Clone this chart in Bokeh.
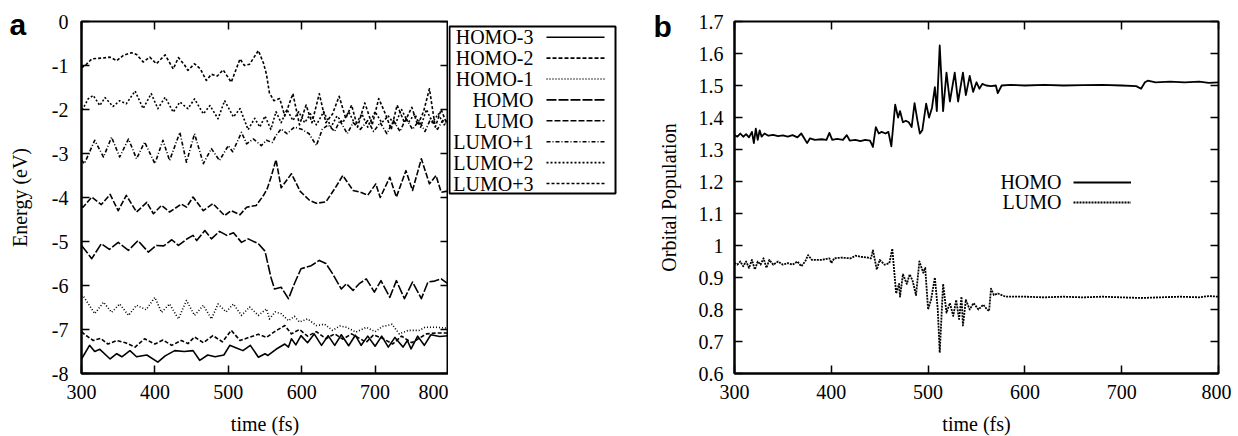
import math
from bokeh.plotting import figure
from bokeh.models import (LinearAxis, FixedTicker, Label, BoxAnnotation, Legend,
                          LegendItem, Range1d, CustomJSTickFormatter)
from bokeh.core.properties import value
from bokeh.layouts import row
from bokeh.embed import file_html
from bokeh.resources import INLINE

# ---------------- data: panel a (energy, eV) ----------------
t_lumo3 = [300, 305, 314, 322, 329, 339, 348, 357, 368, 375, 384, 393, 402, 414, 425, 432, 440, 445, 454, 462,
           470, 477, 485, 493, 504, 516, 522, 529, 541, 548, 552, 556, 562, 570, 577, 588, 597, 606, 614, 624,
           633, 642, 651, 660, 668, 676, 686, 696, 705, 714, 722, 730, 740, 750, 758, 766, 774, 782, 790, 797, 800]
e_lumo3 = [-1.05, -1.00, -0.85, -0.84, -0.83, -0.81, -0.89, -0.77, -0.71, -0.75, -0.92, -0.81, -0.96, -0.76, -1.08,
           -0.82, -0.98, -1.11, -0.96, -1.08, -1.34, -1.20, -1.24, -1.10, -1.38, -0.85, -1.00, -0.97, -0.66, -0.95,
           -1.20, -1.62, -1.80, -1.75, -2.15, -1.64, -2.35, -1.90, -2.30, -1.64, -2.30, -2.10, -1.70, -2.20, -1.90,
           -2.40, -1.85, -2.35, -1.75, -2.10, -2.45, -1.90, -2.30, -1.95, -2.35, -2.05, -1.53, -2.40, -2.00, -2.30, -2.20]

t_lumo2 = [300, 302, 309, 316, 325, 332, 343, 352, 361, 373, 384, 395, 404, 414, 425, 434, 445, 454, 466, 475,
           486, 495, 507, 516, 527, 536, 543, 550, 558, 565, 572, 580, 588, 596, 604, 612, 620, 630, 640, 648,
           656, 664, 673, 682, 690, 700, 709, 718, 727, 736, 745, 754, 762, 770, 778, 786, 794, 800]
e_lumo2 = [-2.00, -1.98, -1.76, -1.68, -1.91, -1.73, -1.93, -1.80, -1.87, -1.58, -1.98, -1.64, -1.98, -1.72, -2.06,
           -1.83, -1.98, -1.76, -2.10, -1.91, -2.21, -1.80, -2.17, -1.98, -2.46, -2.20, -2.40, -2.15, -2.45, -2.05,
           -2.30, -2.00, -2.25, -2.05, -2.30, -2.10, -2.35, -2.05, -2.40, -2.15, -2.30, -2.05, -2.35, -2.10, -2.40,
           -2.05, -2.30, -2.15, -2.35, -2.00, -2.30, -2.10, -2.40, -2.00, -2.30, -2.10, -2.35, -2.25]

t_lumo1 = [300, 304, 318, 330, 341, 352, 364, 375, 386, 400, 411, 420, 434, 443, 454, 466, 477, 488, 500, 506,
           518, 525, 534, 545, 552, 560, 565, 572, 580, 590, 600, 610, 620, 628, 636, 645, 652, 662, 670, 680,
           690, 698, 707, 716, 725, 734, 742, 751, 760, 768, 776, 785, 792, 800]
e_lumo1 = [-3.15, -3.23, -2.70, -3.08, -2.63, -3.08, -2.67, -3.12, -2.74, -3.23, -2.70, -3.16, -2.52, -3.20, -2.55,
           -3.23, -2.89, -3.16, -2.82, -2.96, -2.52, -2.78, -2.67, -2.82, -2.70, -2.75, -2.59, -2.44, -2.55, -2.40,
           -2.45, -2.55, -2.82, -2.45, -2.35, -2.50, -2.25, -2.55, -2.30, -2.45, -2.25, -2.50, -2.30, -2.55, -2.25,
           -2.50, -2.20, -2.45, -2.25, -2.50, -2.20, -2.45, -2.25, -2.35]

t_lumo = [300, 302, 314, 327, 339, 350, 361, 375, 389, 398, 409, 420, 436, 443, 452, 466, 479, 495, 504, 516,
          525, 538, 548, 553, 558, 565, 572, 586, 598, 611, 620, 633, 645, 656, 670, 680, 690, 701, 707, 720,
          729, 742, 751, 763, 774, 783, 790, 800]
e_lumo = [-4.20, -4.22, -3.99, -4.16, -3.93, -4.30, -3.95, -4.33, -4.11, -4.37, -4.18, -4.33, -4.15, -4.22, -3.99,
          -4.30, -4.14, -4.41, -4.30, -4.39, -4.22, -4.18, -3.95, -3.80, -3.55, -3.14, -3.78, -3.46, -3.86, -4.07,
          -4.13, -4.10, -3.80, -3.50, -3.84, -3.88, -3.95, -3.69, -4.00, -3.54, -3.99, -3.39, -3.84, -3.12, -3.69,
          -3.50, -3.88, -3.85]

t_homo = [300, 314, 327, 338, 350, 364, 377, 391, 402, 412, 423, 432, 443, 452, 457, 468, 477, 488, 498, 507,
          518, 527, 541, 550, 558, 563, 572, 582, 590, 599, 613, 624, 633, 642, 654, 661, 670, 679, 688, 699,
          708, 720, 729, 740, 751, 763, 772, 781, 790, 800]
e_homo = [-5.09, -5.39, -5.05, -5.18, -5.02, -5.20, -4.98, -5.24, -5.09, -5.10, -4.96, -5.09, -4.95, -4.86, -4.98,
          -4.75, -4.94, -4.77, -4.86, -4.80, -5.02, -4.94, -5.05, -5.22, -5.81, -6.08, -6.04, -6.30, -5.96, -5.62,
          -5.55, -5.43, -5.50, -5.73, -6.08, -5.96, -6.11, -5.95, -5.85, -6.15, -5.89, -6.27, -5.89, -6.30, -5.92,
          -6.30, -5.92, -5.90, -5.85, -5.97]

t_homo1 = [300, 302, 318, 330, 341, 352, 364, 375, 388, 400, 409, 420, 432, 443, 454, 466, 477, 486, 497, 507,
           518, 529, 541, 552, 556, 564, 572, 582, 590, 597, 608, 620, 631, 642, 652, 661, 674, 688, 700, 710,
           717, 723, 733, 745, 760, 768, 783, 800]
e_homo1 = [-6.25, -6.23, -6.64, -6.38, -6.61, -6.42, -6.68, -6.45, -6.55, -6.27, -6.61, -6.42, -6.76, -6.34, -6.68,
           -6.45, -6.76, -6.42, -6.60, -6.42, -6.68, -6.49, -6.68, -6.53, -6.76, -6.60, -6.64, -6.80, -6.70, -6.83,
           -6.76, -6.91, -6.88, -7.02, -6.92, -6.95, -7.06, -6.95, -7.05, -6.93, -6.91, -6.88, -7.10, -7.02, -7.02,
           -6.95, -6.95, -6.97]

t_homo2 = [300, 305, 316, 326, 336, 348, 360, 373, 386, 400, 411, 423, 436, 445, 454, 466, 479, 492, 504, 516,
           528, 541, 552, 563, 577, 586, 597, 608, 620, 633, 645, 656, 668, 688, 698, 710, 724, 736, 750, 770,
           783, 800]
e_homo2 = [-7.05, -7.12, -7.25, -7.20, -7.33, -7.25, -7.30, -7.40, -7.21, -7.33, -7.24, -7.36, -7.25, -7.32, -7.17,
           -7.30, -7.14, -7.28, -7.02, -7.25, -7.18, -7.11, -7.18, -7.05, -6.91, -7.10, -7.00, -7.15, -7.05, -7.21,
           -7.10, -7.22, -7.10, -7.29, -7.12, -7.20, -7.33, -7.15, -7.30, -7.10, -7.08, -7.08]

t_homo3 = [300, 311, 318, 325, 339, 348, 355, 366, 375, 389, 404, 414, 427, 440, 452, 461, 472, 482, 494, 502,
           511, 520, 530, 541, 550, 554, 565, 577, 582, 586, 592, 599, 608, 617, 627, 636, 645, 654, 664, 673,
           681, 690, 700, 709, 718, 727, 738, 744, 749, 758, 767, 776, 788, 800]
e_homo3 = [-7.67, -7.36, -7.50, -7.45, -7.67, -7.55, -7.62, -7.48, -7.62, -7.58, -7.74, -7.60, -7.48, -7.50, -7.48,
           -7.70, -7.58, -7.62, -7.58, -7.36, -7.42, -7.48, -7.36, -7.63, -7.55, -7.59, -7.45, -7.33, -7.40, -7.21,
           -7.35, -7.14, -7.30, -7.10, -7.36, -7.14, -7.36, -7.12, -7.37, -7.13, -7.36, -7.15, -7.38, -7.15, -7.40,
           -7.18, -7.40, -7.25, -7.44, -7.15, -7.36, -7.12, -7.16, -7.14]

names_a = ["HOMO-3", "HOMO-2", "HOMO-1", "HOMO", "LUMO", "LUMO+1", "LUMO+2", "LUMO+3"]
xticks_a = [300, 400, 500, 600, 700, 800]
yticks_a = [-8, -7, -6, -5, -4, -3, -2, -1, 0]

# ---------------- data: panel b (orbital population) ----------------
t_pop_homo = [300, 303, 306, 309, 312, 315, 318, 320, 322, 324, 326, 328, 331, 335, 340, 345, 350, 355, 360, 365,
              369, 372, 375, 378, 383, 390, 395, 398, 401, 406, 412, 416, 419, 425, 430, 435, 440, 443, 446, 449,
              452, 456, 459, 462, 466, 469, 471, 474, 477, 480, 483, 486, 489, 491.5, 494, 498, 501, 504, 507, 509,
              512, 515.5, 519, 522.5, 527.5, 531, 536, 539, 543, 546.5, 550, 553, 556, 560, 565, 570, 572, 576,
              585, 600, 620, 640, 660, 680, 700, 715, 720, 724, 727, 735, 750, 765, 780, 790, 800]
v_pop_homo = [1.345, 1.340, 1.350, 1.340, 1.348, 1.338, 1.355, 1.320, 1.365, 1.330, 1.360, 1.340, 1.350, 1.343,
              1.346, 1.342, 1.344, 1.340, 1.345, 1.338, 1.350, 1.335, 1.320, 1.335, 1.330, 1.332, 1.330, 1.352,
              1.330, 1.333, 1.330, 1.345, 1.328, 1.330, 1.326, 1.330, 1.328, 1.308, 1.370, 1.350, 1.355, 1.350,
              1.355, 1.310, 1.440, 1.400, 1.420, 1.385, 1.390, 1.385, 1.370, 1.445, 1.390, 1.350, 1.360, 1.443,
              1.400, 1.430, 1.495, 1.420, 1.625, 1.420, 1.540, 1.450, 1.540, 1.450, 1.540, 1.470, 1.530, 1.480,
              1.510, 1.490, 1.505, 1.500, 1.498, 1.500, 1.476, 1.500, 1.502, 1.500, 1.502, 1.500, 1.501, 1.502,
              1.500, 1.498, 1.490, 1.510, 1.515, 1.510, 1.512, 1.510, 1.512, 1.508, 1.510]

t_pop_lumo = [300, 303, 306, 309, 312, 315, 318, 321, 324, 327, 330, 333, 336, 340, 345, 350, 355, 360, 365, 369,
              373, 376, 380, 390, 398, 400, 403, 410, 420, 425, 430, 438, 441, 443, 447, 450, 455, 460, 463, 467,
              470, 471, 474, 478, 481, 484, 487.5, 491, 495, 497, 500, 503, 507, 510, 512, 515.5, 519, 522.5, 526,
              529, 532, 534.5, 536, 539, 543, 547, 552, 557, 561, 563, 565, 568, 572, 580, 600, 620, 640, 660, 680,
              700, 720, 740, 760, 780, 790, 800]
v_pop_lumo = [0.945, 0.940, 0.950, 0.935, 0.950, 0.930, 0.955, 0.925, 0.950, 0.940, 0.960, 0.930, 0.955, 0.940,
              0.950, 0.940, 0.945, 0.940, 0.950, 0.935, 0.950, 0.970, 0.955, 0.955, 0.960, 0.945, 0.960, 0.962,
              0.960, 0.968, 0.965, 0.962, 0.960, 0.985, 0.925, 0.955, 0.940, 0.945, 0.990, 0.850, 0.880, 0.840,
              0.910, 0.880, 0.910, 0.890, 0.845, 0.950, 0.915, 0.930, 0.800, 0.830, 0.900, 0.800, 0.665, 0.880,
              0.790, 0.820, 0.780, 0.830, 0.770, 0.840, 0.750, 0.830, 0.800, 0.820, 0.800, 0.815, 0.800, 0.795,
              0.865, 0.845, 0.850, 0.840, 0.840, 0.838, 0.840, 0.838, 0.840, 0.838, 0.836, 0.838, 0.840, 0.838,
              0.842, 0.840]

names_b = ["HOMO", "LUMO"]
xticks_b = [300, 400, 500, 600, 700, 800]
yticks_b = [0.6, 0.7, 0.8, 0.9, 1.0, 1.1, 1.2, 1.3, 1.4, 1.5, 1.6, 1.7]

# ---------------- styling ----------------
SERIF = "Liberation Serif"
SANS = "Liberation Sans"
FS = "20px"
H = 436          # figure height (frame top at 21, frame bottom at 373)
FH = 352


def no_align(p):
    try:
        p.frame_align = False
    except Exception:
        pass


def base_figure(fw, left, right, xr, yr):
    p = figure(title=None, frame_width=fw, frame_height=FH, min_border_left=left, min_border_right=right,
               min_border_top=21, min_border_bottom=H - FH - 21, x_range=xr, y_range=yr,
               output_backend="svg", toolbar_location=None)
    p.grid.visible = False
    p.outline_line_color = "black"
    p.outline_line_width = 2
    p.background_fill_color = "white"
    p.border_fill_color = "white"
    no_align(p)
    return p


def blank_figure(w):
    p = figure(title=None, frame_width=w, frame_height=H, min_border=0, min_border_left=0,
               min_border_right=0, min_border_top=0, min_border_bottom=0,
               x_range=Range1d(0, w), y_range=Range1d(0, H),
               x_axis_type=None, y_axis_type=None, output_backend="svg", toolbar_location=None)
    p.grid.visible = False
    p.outline_line_color = None
    p.background_fill_color = "white"
    p.border_fill_color = "white"
    no_align(p)
    return p


def style_axis(ax, ticks, standoff, label_standoff, fmt_code):
    ax.ticker = FixedTicker(ticks=ticks)
    ax.formatter = CustomJSTickFormatter(code=fmt_code)
    ax.major_tick_in = 8
    ax.major_tick_out = 0
    ax.major_tick_line_width = 1.5
    ax.major_tick_line_color = "black"
    ax.minor_tick_line_color = None
    ax.axis_line_width = 2
    ax.axis_line_color = "black"
    ax.major_label_text_font = SERIF
    ax.major_label_text_font_size = FS
    ax.major_label_text_color = "black"
    ax.major_label_standoff = standoff
    ax.axis_label_text_font = SERIF
    ax.axis_label_text_font_size = FS
    ax.axis_label_text_font_style = "normal"
    ax.axis_label_text_color = "black"
    ax.axis_label_standoff = label_standoff


def mirror(p, ticks, side):
    ax = LinearAxis(ticker=FixedTicker(ticks=ticks),
                    formatter=CustomJSTickFormatter(code="return ''"))
    ax.major_tick_in = 8
    ax.major_tick_out = 0
    ax.major_tick_line_width = 1.5
    ax.major_tick_line_color = "black"
    ax.minor_tick_line_color = None
    ax.axis_line_color = None
    ax.major_label_text_font_size = "0px"
    ax.major_label_standoff = 0
    p.add_layout(ax, side)


def text_label(p, x, y, text, **kw):
    opts = dict(x_units="screen", y_units="screen", text_font=SERIF, text_font_size=FS,
                text_color="black")
    opts.update(kw)
    p.add_layout(Label(x=x, y=y, text=text, **opts))


# ---------------- left strip: "a" + y label ----------------
fa = blank_figure(48)
text_label(fa, 9, H - 24, "a", text_font=SANS, text_font_style="bold", text_font_size="30px",
           text_baseline="middle")
text_label(fa, 19, H - 197, "Energy (eV)", angle=math.pi / 2, text_align="center",
           text_baseline="middle")

# ---------------- panel a ----------------
pa = base_figure(367, 32, 0, Range1d(300, 800), Range1d(-8, 0))
style_axis(pa.xaxis[0], xticks_a, 11, 11, "return tick.toFixed(0)")
style_axis(pa.yaxis[0], yticks_a, 13, 0, "return tick.toFixed(0)")
pa.xaxis[0].axis_label = "time (fs)"
mirror(pa, xticks_a, "above")
tick_len_a = 8 * (800 - 300) / 367.0
pa.segment(x0=[800 - tick_len_a] * len(yticks_a), x1=[800] * len(yticks_a), y0=yticks_a, y1=yticks_a,
           line_color="black", line_width=1.5)

dashes_a = ["solid", "4 2", "1 2", "10 2", "6 2", "4 2 1 2", "2 2", "3 2"]
series_a = [(t_homo3, e_homo3), (t_homo2, e_homo2), (t_homo1, e_homo1), (t_homo, e_homo),
            (t_lumo, e_lumo), (t_lumo1, e_lumo1), (t_lumo2, e_lumo2), (t_lumo3, e_lumo3)]
for (tx, ey), dash in zip(series_a, dashes_a):
    pa.line(tx, ey, line_color="black", line_width=1.6, line_dash=dash, line_join="round")

# ---------------- legend strip for panel a (page x 447..620) ----------------
FL_W = 173
fl = blank_figure(FL_W)
ROW0, ROWSTEP = 36.7, 20.9          # row centres, px from top
SAMPLE_X0, SAMPLE_X1 = 98, 156      # sample segment, px from strip left
for i, dash in enumerate(dashes_a):
    yy = H - (ROW0 + i * ROWSTEP)
    fl.line([SAMPLE_X0, SAMPLE_X1], [yy, yy], line_color="black", line_width=1.6, line_dash=dash)
fl.add_layout(BoxAnnotation(left=1, right=167, top=H - 26, bottom=H - 193, left_units="screen",
                            right_units="screen", top_units="screen", bottom_units="screen",
                            fill_color=None, fill_alpha=0, line_color="black", line_alpha=1.0,
                            line_width=2))
for i, nm in enumerate(names_a):
    text_label(fl, 85, H - ROW0 - i * ROWSTEP, nm, text_align="right", text_baseline="middle")

# ---------------- middle strip: "b" + y label ----------------
fb = blank_figure(65)
text_label(fb, 32, H - 26, "b", text_font=SANS, text_font_style="bold", text_font_size="30px",
           text_baseline="middle")
text_label(fb, 47, H - 197, "Orbital Population", angle=math.pi / 2, text_align="center",
           text_baseline="middle")

# ---------------- panel b ----------------
pb = base_figure(484, 48, 13, Range1d(300, 800), Range1d(0.6, 1.7))
style_axis(pb.xaxis[0], xticks_b, 11, 11, "return tick.toFixed(0)")
style_axis(pb.yaxis[0], yticks_b, 11, 0, "return tick.toFixed(1).replace(/\\.0$/, '')")
pb.xaxis[0].axis_label = "time (fs)"
mirror(pb, xticks_b, "above")
mirror(pb, yticks_b, "right")

r_h = pb.line(t_pop_homo, v_pop_homo, line_color="black", line_width=1.8, line_join="round")
r_l = pb.line(t_pop_lumo, v_pop_lumo, line_color="black", line_width=1.8, line_dash="2 1",
              line_join="round")
leg_b = Legend(items=[LegendItem(label=value(" "), renderers=[r]) for r in (r_h, r_l)],
               location=(339, 161), glyph_width=58, glyph_height=20, label_height=20, label_width=0,
               label_standoff=0, padding=0, margin=0, spacing=0, border_line_color=None,
               background_fill_alpha=0, label_text_font_size="8px")
pb.add_layout(leg_b)
for i, nm in enumerate(names_b):
    text_label(pb, 327, 191.3 - i * 20, nm, text_align="right", text_baseline="middle")

layout = row(fa, pa, fl, fb, pb)
open("out.html", "w").write(file_html(layout, INLINE))
